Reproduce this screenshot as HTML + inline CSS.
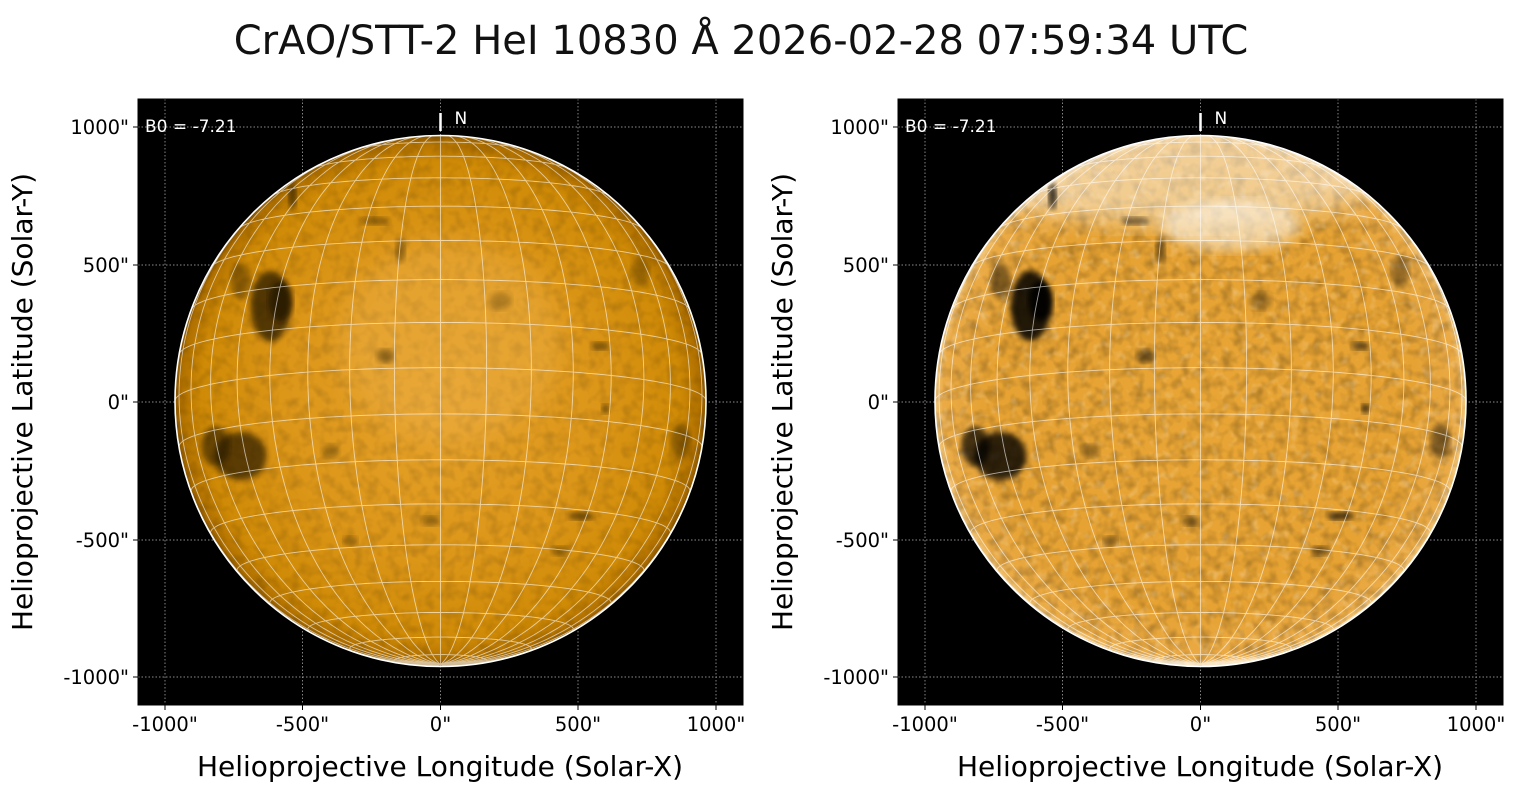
<!DOCTYPE html>
<html><head><meta charset="utf-8"><style>
body{margin:0;background:#fff;width:1520px;height:795px;overflow:hidden;font-family:"Liberation Sans","DejaVu Sans",sans-serif}
svg{position:absolute;left:0;top:0}
</style></head><body>
<svg id="s" width="1520" height="795" viewBox="0 0 1520 795" font-family="DejaVu Sans, Liberation Sans, sans-serif">
<defs>
<radialGradient id="gL" cx="0.5" cy="0.5" r="0.5">
<stop offset="0" stop-color="#e6a22c"/><stop offset="0.6" stop-color="#dc9618"/><stop offset="0.9" stop-color="#cf8a06"/><stop offset="0.98" stop-color="#b07000"/><stop offset="1" stop-color="#8a5600"/>
</radialGradient>
<radialGradient id="gR" cx="0.5" cy="0.5" r="0.5">
<stop offset="0" stop-color="#e8a535"/><stop offset="0.8" stop-color="#e6a232"/><stop offset="0.97" stop-color="#eaaa45"/><stop offset="1" stop-color="#f2c880"/>
</radialGradient>
<filter id="b6"><feGaussianBlur stdDeviation="6"/></filter>
<filter id="b3"><feGaussianBlur stdDeviation="3"/></filter>
<filter id="b12"><feGaussianBlur stdDeviation="12"/></filter>
<filter id="nz" x="0" y="0" width="100%" height="100%">
<feTurbulence type="fractalNoise" baseFrequency="0.09" numOctaves="2" seed="3"/>
<feColorMatrix type="matrix" values="0 0 0 0 0  0 0 0 0 0  0 0 0 0 0  0 0 0 -2.2 1.3"/>
</filter>
<filter id="nzw" x="0" y="0" width="100%" height="100%">
<feTurbulence type="fractalNoise" baseFrequency="0.1" numOctaves="2" seed="7"/>
<feColorMatrix type="matrix" values="0 0 0 0 1  0 0 0 0 1  0 0 0 0 1  0 0 0 2.4 -1.3"/>
</filter>
<clipPath id="cL"><circle cx="440.5" cy="401" r="265.5"/></clipPath>
<clipPath id="cR"><circle cx="1200.5" cy="401" r="265.5"/></clipPath>
</defs>
<text x="741" y="54" font-size="40" text-anchor="middle" fill="#111">CrAO/STT-2 HeI 10830 Å 2026-02-28 07:59:34 UTC</text>
<g id="panels"></g>
</svg>
<script>
const NS="http://www.w3.org/2000/svg";
const P=document.getElementById('panels');
function el(t,a,p){const e=document.createElementNS(NS,t);for(const k in a)e.setAttribute(k,a[k]);(p||P).appendChild(e);return e;}
function txt(p,x,y,s,a){const e=el('text',a,p);e.setAttribute('x',x);e.setAttribute('y',y);e.textContent=s;return e;}
const B0=-7.21*Math.PI/180;
function proj(L,F,R){const d=Math.PI/180;L*=d;F*=d;
 const x=R*Math.cos(F)*Math.sin(L);
 const y=R*(Math.sin(F)*Math.cos(B0)-Math.cos(F)*Math.cos(L)*Math.sin(B0));
 const z=Math.cos(F)*Math.cos(L)*Math.cos(B0)+Math.sin(F)*Math.sin(B0);return [x,y,z];}
function panel(x0,right){
 const g=el('g',{});
 const cx=x0+302.5,cy=401,R=265.5;
 el('rect',{x:x0,y:99,width:605,height:606,fill:'#000'},g);
 const xs=[165,302.5,440.5,578,716],ys=[127,265,402,540,677];
 xs.forEach(x=>el('line',{x1:x0-138+x,y1:99,x2:x0-138+x,y2:705,stroke:'#bbb','stroke-width':0.7,'stroke-dasharray':'1.5,2'},g));
 ys.forEach(y=>el('line',{x1:x0,y1:y,x2:x0+605,y2:y,stroke:'#bbb','stroke-width':0.7,'stroke-dasharray':'1.5,2'},g));
 el('circle',{cx:cx,cy:cy,r:R,fill:right?'url(#gR)':'url(#gL)'},g);
 const d=el('g',{'clip-path':right?'url(#cR)':'url(#cL)'},g);
 el('rect',{x:cx-R,y:cy-R,width:2*R,height:2*R,filter:'url(#nz)',opacity:right?0.22:0.13},d);
 if(right){
  el('rect',{x:cx-R,y:cy-R,width:2*R,height:2*R,filter:'url(#nzw)',opacity:0.25},d);
  el('ellipse',{cx:cx-20,cy:cy-225,rx:200,ry:50,fill:'#fff',opacity:0.45,filter:'url(#b12)'},d);
  el('ellipse',{cx:cx+30,cy:cy-175,rx:70,ry:25,fill:'#fff',opacity:0.5,filter:'url(#b6)'},d);
 } else {
  el('ellipse',{cx:cx+10,cy:cy-60,rx:110,ry:100,fill:'#f0b450',opacity:0.35,filter:'url(#b12)'},d);
 }
 const dark=right?'#000':'#241400';
 const blobs=[[-170,-95,20,35,0.85],[-160,-100,12,20,0.9],[-200,55,26,24,0.8],[-225,45,14,20,0.7],[-148,-205,4,13,0.8],[-65,-180,14,4,0.5],[-40,-150,5,11,0.5],[-55,-45,9,7,0.5],[160,-55,9,4,0.6],[165,8,4,5,0.7],[140,115,13,4,0.7],[240,40,10,18,0.45],[-10,120,9,5,0.45],[-90,140,7,5,0.45],[60,-100,11,9,0.3],[200,-130,9,16,0.35],[-200,-120,10,18,0.45],[120,150,9,5,0.45],[-110,50,9,7,0.35]];
 blobs.forEach(b=>el('ellipse',{cx:cx+b[0],cy:cy+b[1],rx:b[2],ry:b[3],fill:dark,opacity:b[4]*(right?1:0.85),filter:'url(#b3)'},d));
 let path='';
 for(let L=-180;L<180;L+=10){let s='',pen=false;
  for(let F=-90;F<=90;F+=2){const p=proj(L,F,R);if(p[2]>=-0.01){s+=(pen?'L':'M')+(cx+p[0]).toFixed(1)+','+(cy-p[1]).toFixed(1);pen=true}else pen=false;}
  path+=s;}
 for(let F=-80;F<=80;F+=10){let s='',pen=false;
  for(let L=-180;L<=180;L+=2){const p=proj(L,F,R);if(p[2]>=-0.01){s+=(pen?'L':'M')+(cx+p[0]).toFixed(1)+','+(cy-p[1]).toFixed(1);pen=true}else pen=false;}
  path+=s;}
 el('path',{d:path,fill:'none',stroke:'#fff','stroke-width':0.9,opacity:0.6},d);
 el('circle',{cx:cx,cy:cy,r:R,fill:'none',stroke:'#fff','stroke-width':1.6},g);
 el('line',{x1:cx,y1:113,x2:cx,y2:131,stroke:'#fff','stroke-width':2.5},g);
 txt(g,cx+14,124,'N',{fill:'#fff','font-size':17});
 txt(g,x0+7,132,'B0 = -7.21',{fill:'#fff','font-size':17});
 el('rect',{x:x0,y:99,width:605,height:606,fill:'none',stroke:'#000','stroke-width':1},g);
 const xl=['-1000"','-500"','0"','500"','1000"'],yl=['1000"','500"','0"','-500"','-1000"'];
 xs.forEach((x,i)=>{el('line',{x1:x0-138+x,y1:705,x2:x0-138+x,y2:710,stroke:'#000'},g);txt(g,x0-138+x,731,xl[i],{'font-size':19.5,'text-anchor':'middle',fill:'#000'});});
 ys.forEach((y,i)=>{el('line',{x1:x0-5,y1:y,x2:x0,y2:y,stroke:'#000'},g);txt(g,x0-9,y+7,yl[i],{'font-size':19.5,'text-anchor':'end',fill:'#000'});});
 txt(g,x0+302,776,'Helioprojective Longitude (Solar-X)',{'font-size':28,'text-anchor':'middle',fill:'#000'});
 txt(g,0,0,'Helioprojective Latitude (Solar-Y)',{'font-size':28,'text-anchor':'middle',fill:'#000',transform:'translate('+(x0-106)+',402) rotate(-90)'});
}
panel(138,false);panel(898,true);
</script>
</body></html>
